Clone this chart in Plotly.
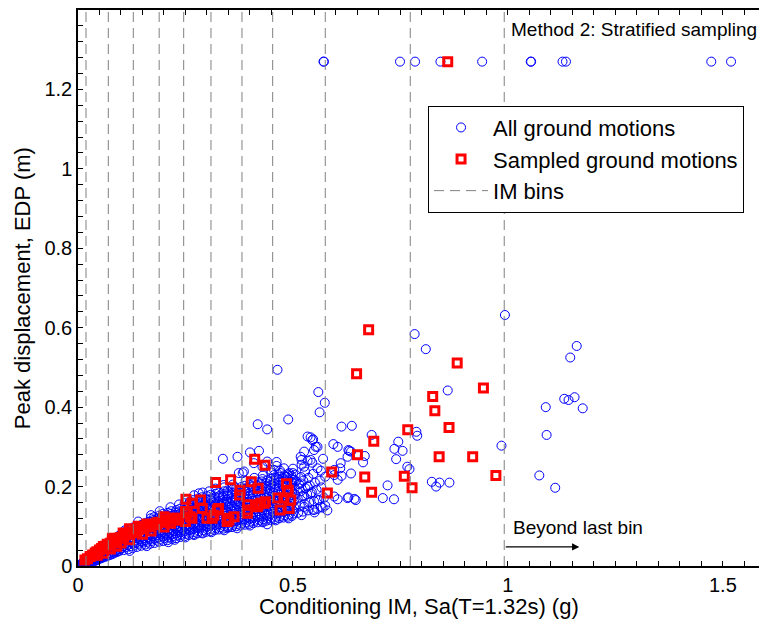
import plotly.graph_objects as go

# ---------------- data ----------------
bin_edges = [0.0186, 0.0705, 0.1286, 0.1888, 0.2458, 0.3093, 0.3814, 0.4528, 0.5751, 0.7728, 0.9914]

x_tick_vals = [0, 0.5, 1, 1.5]
x_tick_text = ["0", "0.5", "1", "1.5"]
y_tick_vals = [0, 0.2, 0.4, 0.6, 0.8, 1.0, 1.2, 1.4]
y_tick_text = ["0", "0.2", "0.4", "0.6", "0.8", "1", "1.2", "1.4"]

collapse_edp = 1.27
collapse_im_all = [0.571, 0.572, 0.749, 0.784, 0.843, 0.940, 1.053, 1.054, 1.127, 1.135, 1.473, 1.519]
collapse_im_sampled = [0.860]

# dense cloud of all ground motions (IM, EDP)
cloud_pts = [
    (0.003,0.001),(0.005,0.003),(0.006,0.002),(0.008,0.004),(0.009,0.006),(0.011,0.005),(0.012,0.008),
    (0.013,0.011),(0.015,0.007),(0.016,0.010),(0.017,0.014),(0.019,0.009),(0.020,0.013),(0.021,0.017),
    (0.023,0.011),(0.024,0.016),(0.025,0.021),(0.027,0.013),(0.028,0.019),(0.029,0.024),
    (0.031,0.012),(0.032,0.018),(0.033,0.024),(0.034,0.029),(0.036,0.015),(0.037,0.021),(0.038,0.027),
    (0.039,0.033),(0.041,0.017),(0.042,0.024),(0.043,0.030),(0.044,0.037),(0.046,0.020),(0.047,0.027),
    (0.048,0.034),(0.049,0.041),(0.051,0.022),(0.052,0.029),(0.053,0.037),(0.054,0.045),
    (0.056,0.025),(0.057,0.032),(0.058,0.040),(0.059,0.048),(0.061,0.027),(0.062,0.035),(0.063,0.043),
    (0.064,0.051),(0.066,0.029),(0.067,0.037),(0.068,0.046),(0.069,0.055),(0.071,0.031),(0.072,0.040),
    (0.073,0.049),(0.074,0.058),(0.076,0.033),(0.077,0.043),(0.078,0.052),(0.079,0.061),(0.081,0.036),
    (0.082,0.045),(0.083,0.055),(0.084,0.064),(0.086,0.038),(0.087,0.048),(0.088,0.058),(0.089,0.067),
    (0.091,0.040),(0.092,0.050),(0.093,0.060),(0.094,0.070),(0.096,0.042),(0.097,0.053),(0.098,0.063),
    (0.099,0.073),
    (0.101,0.044),(0.102,0.055),(0.104,0.066),(0.105,0.076),(0.103,0.084),
    (0.111,0.047),(0.112,0.058),(0.113,0.069),(0.115,0.079),(0.114,0.088),
    (0.121,0.050),(0.122,0.061),(0.124,0.072),(0.125,0.082),(0.123,0.092),
    (0.131,0.053),(0.132,0.064),(0.134,0.075),(0.135,0.085),(0.133,0.095),
    (0.141,0.056),(0.142,0.067),(0.144,0.078),(0.145,0.089),(0.143,0.099),
    (0.151,0.059),(0.152,0.070),(0.154,0.081),(0.155,0.092),(0.153,0.102),
    (0.161,0.061),(0.162,0.072),(0.164,0.083),(0.165,0.094),(0.163,0.104),(0.166,0.112),
    (0.171,0.063),(0.172,0.075),(0.174,0.086),(0.175,0.097),(0.173,0.107),(0.176,0.116),
    (0.181,0.066),(0.182,0.077),(0.184,0.088),(0.185,0.099),(0.183,0.110),(0.186,0.120),
    (0.191,0.068),(0.192,0.079),(0.194,0.091),(0.195,0.102),(0.193,0.113),(0.196,0.124),
    (0.201,0.070),(0.202,0.082),(0.204,0.093),(0.205,0.105),(0.203,0.116),(0.206,0.127),
    (0.211,0.072),(0.212,0.084),(0.214,0.096),(0.215,0.108),(0.213,0.119),(0.216,0.131),
    (0.221,0.075),(0.222,0.087),(0.224,0.099),(0.225,0.111),(0.223,0.122),(0.226,0.134),
    (0.231,0.077),(0.232,0.089),(0.234,0.101),(0.235,0.113),(0.233,0.125),(0.236,0.137),
    (0.241,0.079),(0.242,0.091),(0.244,0.104),(0.245,0.116),(0.243,0.128),(0.246,0.141),
    (0.251,0.081),(0.252,0.094),(0.254,0.106),(0.255,0.119),(0.253,0.131),(0.256,0.144),(0.258,0.155),
    (0.261,0.084),(0.262,0.096),(0.264,0.109),(0.265,0.121),(0.263,0.134),(0.266,0.146),(0.268,0.158),
    (0.271,0.086),(0.272,0.099),(0.274,0.111),(0.275,0.124),(0.273,0.136),(0.276,0.149),(0.278,0.161),
    (0.281,0.088),(0.282,0.101),(0.284,0.114),(0.285,0.127),(0.283,0.139),(0.286,0.152),(0.288,0.165),
    (0.291,0.090),(0.292,0.103),(0.294,0.116),(0.295,0.129),(0.293,0.142),(0.296,0.155),(0.298,0.168),
    (0.301,0.092),(0.302,0.105),(0.304,0.118),(0.305,0.131),(0.303,0.144),(0.306,0.157),(0.308,0.170),
    (0.311,0.094),(0.312,0.107),(0.314,0.120),(0.315,0.133),(0.313,0.147),(0.316,0.160),(0.318,0.173),
    (0.321,0.096),(0.322,0.109),(0.324,0.123),(0.325,0.136),(0.323,0.149),(0.326,0.162),(0.328,0.176),
    (0.331,0.098),(0.332,0.111),(0.334,0.125),(0.335,0.138),(0.333,0.152),(0.336,0.165),(0.338,0.178),
    (0.341,0.100),(0.342,0.113),(0.344,0.127),(0.345,0.141),(0.343,0.154),(0.346,0.168),(0.348,0.181),
    (0.351,0.102),(0.352,0.115),(0.354,0.129),(0.355,0.143),(0.353,0.157),(0.356,0.170),(0.358,0.184),
    (0.361,0.104),(0.363,0.118),(0.362,0.131),(0.365,0.145),(0.364,0.159),(0.367,0.173),(0.366,0.188),
    (0.371,0.106),(0.373,0.120),(0.372,0.134),(0.375,0.148),(0.374,0.162),(0.377,0.176),(0.376,0.191),
    (0.381,0.108),(0.383,0.122),(0.382,0.136),(0.385,0.150),(0.384,0.165),(0.387,0.179),(0.386,0.194),
    (0.391,0.110),(0.393,0.124),(0.392,0.139),(0.395,0.153),(0.394,0.168),(0.397,0.182),(0.396,0.197),
    (0.401,0.112),(0.403,0.126),(0.402,0.141),(0.405,0.156),(0.404,0.170),(0.407,0.185),(0.406,0.200),
    (0.411,0.114),(0.413,0.128),(0.412,0.143),(0.415,0.158),(0.414,0.173),(0.417,0.188),(0.416,0.203),
    (0.421,0.116),(0.423,0.130),(0.422,0.145),(0.425,0.160),(0.424,0.176),(0.427,0.191),(0.426,0.206),
    (0.431,0.118),(0.433,0.132),(0.432,0.148),(0.435,0.163),(0.434,0.178),(0.437,0.194),(0.436,0.209),
    (0.441,0.120),(0.443,0.134),(0.442,0.150),(0.445,0.165),(0.444,0.181),(0.447,0.196),(0.446,0.212),
    (0.451,0.122),(0.453,0.137),(0.452,0.152),(0.455,0.168),(0.454,0.184),(0.457,0.199),(0.456,0.215),
    (0.461,0.124),(0.463,0.139),(0.462,0.155),(0.465,0.171),(0.464,0.186),(0.467,0.202),(0.466,0.218),
    (0.471,0.126),(0.473,0.141),(0.472,0.157),(0.475,0.173),(0.474,0.189),(0.477,0.205),(0.476,0.221),
    (0.481,0.128),(0.483,0.143),(0.482,0.159),(0.485,0.176),(0.484,0.192),(0.487,0.208),(0.486,0.224),
    (0.491,0.130),(0.493,0.145),(0.492,0.162),(0.495,0.178),(0.494,0.195),(0.497,0.211),(0.496,0.227),
    (0.501,0.132),(0.503,0.147),(0.502,0.164),(0.505,0.181),(0.504,0.197),(0.507,0.214),(0.506,0.230),
    (0.512,0.134),(0.516,0.152),(0.511,0.170),(0.518,0.188),(0.514,0.206),(0.519,0.224),
    (0.523,0.137),(0.527,0.156),(0.522,0.176),(0.529,0.196),(0.524,0.215),(0.528,0.238),
    (0.535,0.140),(0.538,0.160),(0.533,0.181),(0.539,0.203),(0.536,0.222),
    (0.546,0.142),(0.549,0.163),(0.544,0.186),(0.551,0.210),(0.547,0.232),
    (0.557,0.144),(0.561,0.166),(0.555,0.192),(0.563,0.215),
    (0.569,0.147),(0.572,0.172),(0.566,0.198),(0.575,0.225),
]

# second, staggered pass over the dense band (IM, EDP)
cloud_pts_b = [
    (0.0045,0.002),(0.007,0.005),(0.010,0.003),(0.014,0.004),(0.014,0.009),(0.018,0.006),(0.018,0.012),
    (0.022,0.008),(0.022,0.014),(0.026,0.010),(0.026,0.017),(0.030,0.009),(0.030,0.021),(0.035,0.010),
    (0.035,0.022),(0.040,0.013),(0.040,0.026),(0.045,0.015),(0.045,0.031),(0.050,0.018),(0.050,0.033),
    (0.055,0.020),(0.055,0.036),(0.060,0.022),(0.060,0.038),(0.060,0.052),(0.065,0.024),(0.065,0.041),
    (0.065,0.056),(0.070,0.026),(0.070,0.044),(0.070,0.059),(0.075,0.028),(0.075,0.047),(0.075,0.062),
    (0.080,0.030),(0.080,0.050),(0.080,0.066),(0.085,0.033),(0.085,0.053),(0.085,0.069),(0.090,0.035),
    (0.090,0.055),(0.090,0.072),(0.095,0.037),(0.095,0.058),(0.095,0.076),
    (0.106,0.040),(0.107,0.050),(0.105,0.061),(0.108,0.071),(0.106,0.081),(0.109,0.090),
    (0.117,0.042),(0.116,0.053),(0.118,0.064),(0.117,0.074),(0.119,0.084),(0.116,0.093),
    (0.127,0.045),(0.128,0.056),(0.126,0.067),(0.129,0.077),(0.127,0.087),(0.128,0.097),
    (0.137,0.048),(0.136,0.059),(0.138,0.070),(0.137,0.080),(0.139,0.091),(0.136,0.101),
    (0.147,0.051),(0.148,0.062),(0.146,0.073),(0.149,0.084),(0.147,0.094),(0.148,0.104),
    (0.157,0.054),(0.156,0.065),(0.158,0.076),(0.157,0.087),(0.159,0.097),(0.156,0.108),
    (0.168,0.056),(0.167,0.067),(0.169,0.078),(0.168,0.089),(0.170,0.100),(0.167,0.111),(0.169,0.120),
    (0.178,0.058),(0.179,0.070),(0.177,0.081),(0.180,0.092),(0.178,0.103),(0.179,0.114),(0.177,0.123),
    (0.188,0.061),(0.187,0.072),(0.189,0.083),(0.188,0.094),(0.190,0.105),(0.187,0.116),(0.189,0.127),
    (0.198,0.063),(0.199,0.074),(0.197,0.086),(0.200,0.097),(0.198,0.108),(0.199,0.119),(0.197,0.131),
    (0.208,0.065),(0.207,0.077),(0.209,0.088),(0.208,0.100),(0.210,0.111),(0.207,0.122),(0.209,0.134),
    (0.218,0.068),(0.219,0.080),(0.217,0.091),(0.220,0.103),(0.218,0.114),(0.219,0.126),(0.217,0.138),
    (0.228,0.070),(0.227,0.082),(0.229,0.094),(0.228,0.106),(0.230,0.117),(0.227,0.129),(0.229,0.141),
    (0.238,0.073),(0.239,0.085),(0.237,0.097),(0.240,0.109),(0.238,0.120),(0.239,0.132),(0.237,0.144),
    (0.248,0.075),(0.247,0.087),(0.249,0.100),(0.248,0.112),(0.250,0.124),(0.247,0.136),(0.249,0.148),(0.248,0.158),
    (0.258,0.078),(0.259,0.090),(0.257,0.102),(0.260,0.114),(0.258,0.127),(0.259,0.139),(0.257,0.151),(0.260,0.162),
    (0.268,0.080),(0.267,0.093),(0.269,0.105),(0.268,0.117),(0.270,0.130),(0.267,0.142),(0.269,0.154),(0.268,0.166),
    (0.278,0.082),(0.279,0.095),(0.277,0.107),(0.280,0.120),(0.278,0.133),(0.279,0.145),(0.277,0.157),(0.280,0.170),
    (0.288,0.084),(0.287,0.097),(0.289,0.110),(0.288,0.122),(0.290,0.135),(0.287,0.148),(0.289,0.160),(0.288,0.173),
    (0.298,0.086),(0.299,0.099),(0.297,0.112),(0.300,0.125),(0.298,0.138),(0.299,0.150),(0.297,0.163),(0.300,0.176),
    (0.308,0.088),(0.307,0.101),(0.309,0.114),(0.308,0.127),(0.310,0.140),(0.307,0.153),(0.309,0.166),(0.308,0.179),
    (0.318,0.090),(0.319,0.103),(0.317,0.116),(0.320,0.129),(0.318,0.143),(0.319,0.156),(0.317,0.169),(0.320,0.182),
    (0.328,0.092),(0.327,0.105),(0.329,0.118),(0.328,0.132),(0.330,0.145),(0.327,0.158),(0.329,0.172),(0.328,0.185),
    (0.338,0.094),(0.339,0.107),(0.337,0.121),(0.340,0.134),(0.338,0.147),(0.339,0.161),(0.337,0.174),(0.340,0.188),
    (0.348,0.096),(0.347,0.109),(0.349,0.123),(0.348,0.136),(0.350,0.150),(0.347,0.163),(0.349,0.177),(0.348,0.190),
    (0.358,0.098),(0.359,0.111),(0.357,0.125),(0.360,0.138),(0.358,0.152),(0.359,0.166),(0.357,0.180),(0.360,0.193),
    (0.368,0.100),(0.367,0.113),(0.369,0.127),(0.368,0.141),(0.370,0.155),(0.367,0.168),(0.369,0.182),(0.368,0.196),
    (0.378,0.102),(0.379,0.115),(0.377,0.129),(0.380,0.143),(0.378,0.157),(0.379,0.171),(0.377,0.185),(0.380,0.199),
    (0.388,0.104),(0.387,0.117),(0.389,0.131),(0.388,0.145),(0.390,0.159),(0.387,0.173),(0.389,0.188),(0.388,0.202),
    (0.398,0.106),(0.399,0.119),(0.397,0.133),(0.400,0.147),(0.398,0.162),(0.399,0.176),(0.397,0.190),(0.400,0.205),
    (0.408,0.108),(0.407,0.121),(0.409,0.136),(0.408,0.150),(0.410,0.164),(0.407,0.178),(0.409,0.193),(0.408,0.208),
    (0.418,0.110),(0.419,0.123),(0.417,0.138),(0.420,0.152),(0.418,0.167),(0.419,0.181),(0.417,0.196),(0.420,0.211),
    (0.428,0.112),(0.427,0.126),(0.429,0.140),(0.428,0.155),(0.430,0.169),(0.427,0.184),(0.429,0.199),(0.428,0.213),
    (0.438,0.114),(0.439,0.128),(0.437,0.142),(0.440,0.157),(0.438,0.172),(0.439,0.186),(0.437,0.201),(0.440,0.216),
    (0.448,0.116),(0.447,0.130),(0.449,0.145),(0.448,0.159),(0.450,0.174),(0.447,0.189),(0.449,0.204),(0.448,0.219),
    (0.458,0.118),(0.459,0.132),(0.457,0.147),(0.460,0.162),(0.458,0.177),(0.459,0.192),(0.457,0.207),(0.460,0.222),
    (0.468,0.120),(0.467,0.134),(0.469,0.149),(0.468,0.164),(0.470,0.179),(0.467,0.194),(0.469,0.210),(0.468,0.225),
    (0.478,0.122),(0.479,0.136),(0.477,0.151),(0.480,0.167),(0.478,0.182),(0.479,0.197),(0.477,0.213),(0.480,0.228),
    (0.488,0.124),(0.487,0.139),(0.489,0.154),(0.488,0.169),(0.490,0.185),(0.487,0.200),(0.489,0.216),(0.488,0.231),
    (0.498,0.126),(0.499,0.141),(0.497,0.156),(0.500,0.172),(0.498,0.187),(0.499,0.203),(0.497,0.219),(0.500,0.234),
]

# ragged edges of the band (IM, EDP)
edge_pts = [
    (0.120,0.038),(0.160,0.050),(0.210,0.060),(0.250,0.072),(0.270,0.078),(0.310,0.085),(0.340,0.090),
    (0.370,0.095),(0.400,0.102),(0.430,0.110),(0.460,0.115),(0.490,0.120),(0.520,0.128),(0.550,0.135),
    (0.580,0.140),(0.575,0.152),(0.440,0.105),(0.350,0.098),(0.290,0.082),(0.225,0.066),
    (0.140,0.112),(0.170,0.128),(0.190,0.138),(0.215,0.148),(0.235,0.155),(0.255,0.168),(0.270,0.178),
    (0.290,0.185),(0.305,0.188),(0.320,0.195),(0.340,0.198),(0.360,0.205),(0.390,0.215),(0.410,0.222),
    (0.430,0.228),(0.450,0.235),(0.470,0.240),(0.500,0.245),(0.520,0.255),(0.545,0.260),(0.565,0.240),
    (0.570,0.270),
]

# scattered ground motions away from the main band (IM, EDP)
scatter_pts = [
    (0.464,0.494),(0.559,0.438),(0.574,0.411),(0.562,0.387),(0.613,0.351),(0.637,0.353),(0.683,0.330),
    (0.787,0.338),(0.789,0.328),(0.745,0.313),(0.736,0.295),(0.755,0.290),(0.740,0.269),(0.985,0.303),
    (1.088,0.400),(1.090,0.330),(1.073,0.228),(0.766,0.250),(0.771,0.244),(0.823,0.212),(0.833,0.200),
    (0.841,0.210),(0.864,0.210),(0.720,0.203),(0.709,0.171),(0.735,0.168),(0.643,0.169),(0.629,0.173),
    (0.604,0.168),(0.635,0.233),(0.613,0.227),(0.610,0.246),(0.596,0.242),(0.667,0.277),(0.663,0.261),
    (0.631,0.290),(0.594,0.307),(0.604,0.300),(0.993,0.632),(0.783,0.584),(0.809,0.546),(0.860,0.442),
    (1.160,0.554),(1.145,0.525),(1.131,0.421),(1.141,0.418),(1.155,0.425),(1.174,0.397),(1.110,0.197),
    (0.418,0.357),(0.440,0.344),(0.489,0.369),(0.337,0.270),(0.371,0.275),(0.400,0.286),(0.421,0.290),
    (0.541,0.324),(0.547,0.319),(0.557,0.300),(0.549,0.292),(0.526,0.288),(0.520,0.267),(0.534,0.265),
    (0.629,0.292),(0.462,0.262),(0.383,0.234),(0.429,0.219),(0.374,0.234),(0.386,0.238),(0.440,0.263),
    (0.462,0.252),(0.471,0.234),(0.483,0.225),(0.518,0.208),(0.534,0.200),(0.514,0.196),(0.526,0.175),
    (0.541,0.183),(0.557,0.166),(0.565,0.149),(0.549,0.141),(0.526,0.149),(0.534,0.326),(0.545,0.317),
    (0.553,0.300),(0.518,0.275),(0.541,0.267),(0.526,0.250),(0.557,0.246),(0.596,0.229),(0.604,0.217),
    (0.611,0.259),(0.635,0.288),(0.627,0.275),(0.596,0.175),(0.627,0.171),(0.646,0.166),(0.281,0.183),
    (0.339,0.204),(0.456,0.242),(0.409,0.259),(0.429,0.250),(0.448,0.242),(0.456,0.229),(0.479,0.246),
    (0.491,0.234),(0.502,0.217),
]

# sampled ground motions (IM, EDP)
sampled_pts = [
    (0.016,0.015),(0.022,0.018),(0.028,0.024),(0.034,0.028),(0.040,0.033),(0.044,0.036),(0.050,0.040),
    (0.055,0.044),(0.059,0.049),(0.064,0.050),(0.068,0.055),(0.075,0.057),(0.080,0.062),(0.085,0.064),
    (0.090,0.066),(0.095,0.070),(0.100,0.072),(0.106,0.074),(0.110,0.078),(0.115,0.080),(0.121,0.082),
    (0.125,0.086),(0.130,0.084),(0.137,0.086),(0.140,0.092),(0.146,0.094),(0.152,0.095),(0.158,0.098),
    (0.165,0.100),(0.168,0.099),(0.175,0.104),(0.184,0.108),(0.190,0.110),(0.199,0.116),(0.205,0.112),
    (0.215,0.108),(0.220,0.118),(0.226,0.120),(0.234,0.115),(0.250,0.112),
    (0.060,0.032),(0.090,0.050),(0.100,0.058),(0.120,0.066),(0.150,0.080),(0.170,0.088),(0.200,0.098),
    (0.045,0.027),(0.075,0.043),(0.080,0.070),(0.120,0.094),(0.160,0.106),(0.200,0.124),(0.140,0.100),
    (0.105,0.083),
    (0.254,0.133),(0.265,0.120),(0.250,0.137),(0.261,0.124),(0.226,0.120),(0.215,0.108),(0.199,0.116),
    (0.184,0.108),(0.251,0.168),(0.265,0.158),(0.289,0.145),(0.285,0.166),(0.324,0.141),(0.312,0.120),
    (0.300,0.120),(0.316,0.128),(0.327,0.145),(0.347,0.112),(0.363,0.124),(0.351,0.116),(0.347,0.120),
    (0.320,0.210),(0.355,0.217),(0.377,0.191),(0.376,0.179),(0.403,0.212),(0.419,0.196),(0.411,0.269),
    (0.435,0.254),(0.485,0.207),(0.489,0.191),(0.487,0.187),(0.464,0.171),(0.479,0.171),(0.495,0.166),
    (0.470,0.141),(0.491,0.145),(0.394,0.154),(0.419,0.154),(0.433,0.158),(0.394,0.133),(0.394,0.141),
    (0.417,0.149),(0.425,0.158),(0.436,0.162),
    (0.676,0.595),(0.648,0.484),(0.882,0.511),(0.943,0.448),(0.825,0.427),(0.830,0.391),(0.863,0.349),
    (0.767,0.343),(0.688,0.314),(0.650,0.280),(0.840,0.275),(0.918,0.275),(0.590,0.237),(0.667,0.224),
    (0.759,0.226),(0.972,0.228),(0.580,0.184),(0.683,0.186),(0.777,0.197),
]

# ---------------- build series ----------------
blue_pts = cloud_pts + cloud_pts_b + edge_pts + scatter_pts
all_x = [p[0] for p in blue_pts] + collapse_im_all
all_y = [p[1] for p in blue_pts] + [collapse_edp] * len(collapse_im_all)
samp_x = [p[0] for p in sampled_pts] + collapse_im_sampled
samp_y = [p[1] for p in sampled_pts] + [collapse_edp] * len(collapse_im_sampled)

bin_x, bin_y = [], []
for e in bin_edges:
    bin_x += [e, e, None]
    bin_y += [0, 1.4, None]

FONT = "Liberation Sans, Arial, Helvetica, sans-serif"

fig = go.Figure()
fig.add_trace(go.Scatter(
    x=all_x, y=all_y, mode="markers", name="All ground motions", legendgroup="a",
    marker=dict(symbol="circle-open", size=9, color="#0000ff", line=dict(width=1, color="#0000ff")),
))
fig.add_trace(go.Scatter(
    x=samp_x, y=samp_y, mode="markers", name="Sampled ground motions", legendgroup="b",
    marker=dict(symbol="square-open", size=8, color="#ff0000", line=dict(width=3, color="#ff0000")),
))
fig.add_trace(go.Scatter(
    x=bin_x, y=bin_y, mode="lines", name="IM bins", legendgroup="c",
    line=dict(color="#808080", width=1, dash="10px,6px"),
))

fig.add_annotation(x=1.003, y=1.35, xref="x", yref="y", text="Method 2: Stratified sampling",
                   showarrow=False, xanchor="left", yanchor="middle", font=dict(size=19, color="black", family=FONT))
fig.add_annotation(x=1.008, y=0.098, xref="x", yref="y", text="Beyond last bin",
                   showarrow=False, xanchor="left", yanchor="middle", font=dict(size=19, color="black", family=FONT))
fig.add_annotation(x=1.166, y=0.048, ax=0.9914, ay=0.048, xref="x", yref="y", axref="x", ayref="y",
                   text="", showarrow=True, arrowhead=2, arrowsize=1.2, arrowwidth=1.2, arrowcolor="black")
fig.add_annotation(x=0.5, y=-0.072, xref="paper", yref="paper", text="Conditioning IM, Sa(T=1.32s) (g)",
                   showarrow=False, xanchor="center", yanchor="middle", font=dict(size=22, color="black", family=FONT))
fig.add_annotation(x=-0.082, y=0.5, xref="paper", yref="paper", text="Peak displacement, EDP (m)",
                   textangle=-90, showarrow=False, xanchor="center", yanchor="middle",
                   font=dict(size=22, color="black", family=FONT))

fig.update_layout(
    width=759, height=626,
    margin=dict(l=78, r=0, t=10, b=60),
    paper_bgcolor="white", plot_bgcolor="white",
    font=dict(family=FONT, color="black", size=20),
    showlegend=True,
    legend=dict(
        x=0.514, y=0.828, xanchor="left", yanchor="top",
        bgcolor="white", bordercolor="black", borderwidth=1,
        font=dict(size=22, family=FONT, color="black"),
        itemwidth=54, traceorder="grouped", tracegroupgap=0,
    ),
    xaxis=dict(
        range=[0, 1.584], showgrid=False, zeroline=False,
        showline=True, linecolor="black", linewidth=1.5, mirror="ticks",
        ticks="inside", ticklen=5, tickcolor="black", tickwidth=1,
        tickmode="array", tickvals=x_tick_vals, ticktext=x_tick_text,
        tickfont=dict(size=20, family=FONT, color="black"),
        minor=dict(tickmode="linear", tick0=0, dtick=0.05, ticks="inside", ticklen=5, tickcolor="black", showgrid=False),
    ),
    yaxis=dict(
        range=[0, 1.4], showgrid=False, zeroline=False,
        showline=True, linecolor="black", linewidth=1.5,
        ticks="inside", ticklen=5, tickcolor="black", tickwidth=1,
        tickmode="array", tickvals=y_tick_vals, ticktext=y_tick_text,
        tickfont=dict(size=20, family=FONT, color="black"),
        minor=dict(tickmode="linear", tick0=0, dtick=0.04, ticks="inside", ticklen=5, tickcolor="black", showgrid=False),
    ),
)

fig.write_html("out.html", config={"displayModeBar": False},
               post_script="document.body.style.margin='0';document.body.style.overflow='hidden';")
